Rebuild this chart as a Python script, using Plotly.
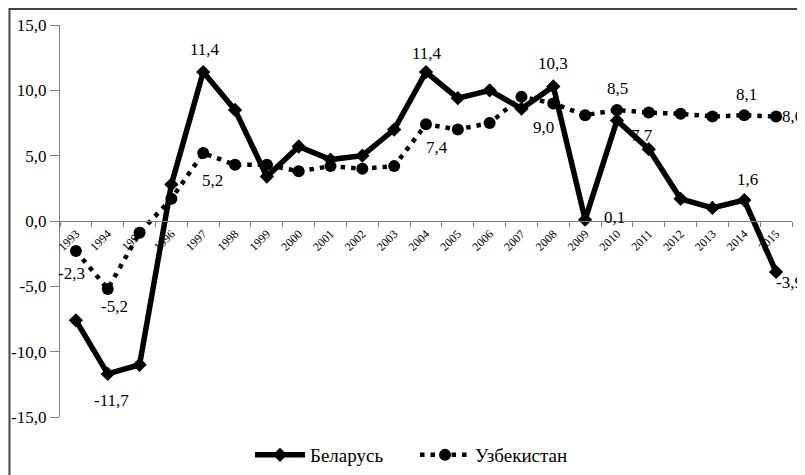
import plotly.graph_objects as go

years = [str(y) for y in range(1993, 2016)]
belarus = [-7.6, -11.7, -11.0, 2.8, 11.4, 8.5, 3.4, 5.7, 4.7, 5.0, 7.0, 11.4,
           9.4, 10.0, 8.6, 10.3, 0.1, 7.7, 5.5, 1.7, 1.0, 1.6, -3.9]
uzbekistan = [-2.3, -5.2, -0.9, 1.7, 5.2, 4.3, 4.3, 3.8, 4.2, 4.0, 4.2, 7.4,
              7.0, 7.5, 9.5, 9.0, 8.1, 8.5, 8.3, 8.2, 8.0, 8.1, 8.0]
y_ticks = [-15, -10, -5, 0, 5, 10, 15]
y_ticktext = ["-15,0", "-10,0", "-5,0", "0,0", "5,0", "10,0", "15,0"]

# which points carry a value label, and the pixel offset of that label
belarus_labels = {1994: (4, -27), 1997: (2, 23), 2004: (1, 19), 2008: (0, 23),
                  2009: (29, 2), 2010: (25, -15), 2014: (3, 21), 2015: (13, -11)}
uzbek_labels = {1993: (-4, -22), 1994: (7, -18), 1997: (9, -27), 2004: (11, -23),
                2008: (-10, -24), 2010: (1, 21), 2014: (2, 21), 2015: (16, 0)}

FONT = "Liberation Serif"

fig = go.Figure()
fig.add_trace(go.Scatter(
    x=years, y=belarus, name="Беларусь", mode="lines+markers",
    line=dict(color="black", width=5.5),
    marker=dict(symbol="diamond", size=11, color="black"),
    cliponaxis=False,
))
fig.add_trace(go.Scatter(
    x=years, y=uzbekistan, name="Узбекистан", mode="lines+markers",
    line=dict(color="black", width=4.5, dash="4.5px,6px"),
    marker=dict(symbol="circle", size=12, color="black"),
    cliponaxis=False,
))

def fmt(v):
    return f"{v:.1f}".replace(".", ",")

annotations = []
for series, labels in ((belarus, belarus_labels), (uzbekistan, uzbek_labels)):
    for yr, (dx, dy) in labels.items():
        i = years.index(str(yr))
        annotations.append(dict(
            x=i, y=series[i], text=fmt(series[i]), showarrow=False,
            xshift=dx, yshift=dy, font=dict(family=FONT, size=17, color="black"),
        ))

# the page body adds an 8px offset, so the figure is 8px smaller on each axis
fig.update_layout(
    width=797, height=467,
    margin=dict(l=52, r=13, t=17, b=58, autoexpand=False),
    paper_bgcolor="white", plot_bgcolor="white",
    font=dict(family=FONT, color="black"),
    showlegend=True,
    legend=dict(orientation="h", x=0.485, xanchor="center", y=-0.097, yanchor="middle",
                font=dict(family=FONT, size=19, color="black"), itemwidth=50,
                entrywidth=100, entrywidthmode="pixels", tracegroupgap=0),
    annotations=annotations,
    xaxis=dict(
        type="category", anchor="free", position=0.5, automargin=False,
        range=[-0.5, len(years) - 0.5],
        showline=True, linecolor="#808080", linewidth=1.3,
        ticks="outside", ticklen=5, tickcolor="#808080", tickson="boundaries",
        tickangle=-45, tickfont=dict(family=FONT, size=12, color="black"),
        showgrid=False, zeroline=False,
    ),
    yaxis=dict(
        range=[-15, 15], tickvals=y_ticks, ticktext=y_ticktext, automargin=False,
        showline=True, linecolor="#808080", linewidth=1.3,
        ticks="outside", ticklen=9, tickcolor="#808080", ticklabelstandoff=0,
        tickfont=dict(family=FONT, size=17, color="black"),
        showgrid=False, zeroline=False,
    ),
    shapes=[dict(type="rect", xref="paper", yref="paper",
                 x0=-0.069, x1=1.05, y0=-0.2, y1=1.041,
                 line=dict(color="#444444", width=2))],
)

fig.write_html("out.html")
